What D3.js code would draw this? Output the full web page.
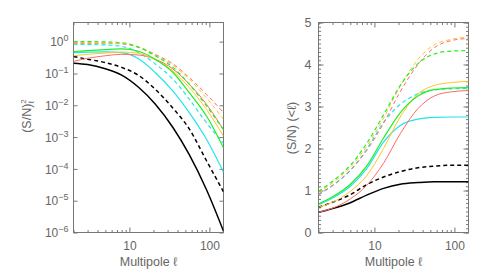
<!DOCTYPE html>
<html>
<head>
<meta charset="utf-8">
<script src="https://cdn.jsdelivr.net/npm/d3@7"></script>
<style>
  body { margin: 0; background: #fff; }
  text { font-family: "Liberation Sans", Arial, sans-serif; fill: #666; }
</style>
</head>
<body>
<svg id="chart" width="491" height="280"></svg>
<script>
var ell = [2, 3, 5, 8, 13, 21, 35, 56, 92, 150];

// left panel: (S/N)^2 per multipole
var snBlack      = [0.21, 0.19, 0.14, 0.089, 0.037, 0.011, 2.0e-3, 2.8e-4, 2.2e-5, 1.1e-6];
var snBlackDash  = [0.34, 0.28, 0.22, 0.155, 0.087, 0.032, 8.1e-3, 1.8e-3, 1.8e-4, 1.9e-5];
var snGreen      = [0.49, 0.52, 0.56, 0.59, 0.50, 0.28, 0.107, 0.025, 4.6e-3, 4.6e-4];
var snCyan       = [0.45, 0.47, 0.48, 0.45, 0.29, 0.107, 0.028, 5.9e-3, 8.5e-4, 7.9e-5];
var snOrange     = [0.36, 0.40, 0.44, 0.47, 0.43, 0.27, 0.12, 0.036, 7.4e-3, 1.07e-3];
var snRed        = [0.24, 0.30, 0.36, 0.40, 0.38, 0.28, 0.138, 0.046, 0.0107, 1.7e-3];
var snGreenDash  = [1.0, 1.0, 0.98, 0.93, 0.66, 0.36, 0.155, 0.046, 9.5e-3, 1.7e-3];
var snOrangeDash = [0.93, 0.93, 0.91, 0.87, 0.68, 0.38, 0.18, 0.066, 0.017, 3.6e-3];
var snRedDash    = [0.89, 0.89, 0.89, 0.85, 0.68, 0.40, 0.20, 0.074, 0.022, 5.9e-3];
var snCyanDash   = [0.83, 0.81, 0.79, 0.71, 0.46, 0.20, 0.066, 0.0155, 2.8e-3, 6.3e-4];

// right panel: cumulative S/N below l
var cumBlack      = [0.48, 0.57, 0.71, 0.89, 1.05, 1.15, 1.19, 1.21, 1.21, 1.21];
var cumBlackDash  = [0.60, 0.72, 0.90, 1.14, 1.32, 1.45, 1.54, 1.58, 1.60, 1.60];
var cumGreen      = [0.68, 0.85, 1.15, 1.58, 2.25, 2.85, 3.25, 3.40, 3.44, 3.45];
var cumCyan       = [0.66, 0.82, 1.10, 1.52, 2.15, 2.55, 2.70, 2.74, 2.75, 2.75];
var cumOrange     = [0.60, 0.72, 0.98, 1.35, 2.00, 2.75, 3.30, 3.50, 3.57, 3.60];
var cumRed        = [0.48, 0.58, 0.80, 1.12, 1.65, 2.35, 2.95, 3.25, 3.35, 3.38];
var cumGreenDash  = [0.98, 1.22, 1.60, 2.12, 2.80, 3.50, 4.02, 4.25, 4.32, 4.33];
var cumOrangeDash = [0.95, 1.18, 1.55, 2.05, 2.72, 3.48, 4.12, 4.47, 4.60, 4.66];
var cumRedDash    = [0.92, 1.12, 1.48, 1.95, 2.60, 3.35, 4.00, 4.40, 4.57, 4.62];
var cumCyanDash   = [0.90, 1.12, 1.48, 1.98, 2.62, 3.05, 3.30, 3.40, 3.42, 3.43];

var xMajor = [10, 100];
var xMinor = [2, 3, 4, 5, 6, 7, 8, 9, 20, 30, 40, 50, 60, 70, 80, 90];
var yLogTicks = [1e-6, 1e-5, 1e-4, 1e-3, 1e-2, 1e-1, 1];
var yLinMajor = [0, 1, 2, 3, 4, 5];

var styles = [
  { left: snBlack,      right: cumBlack,      color: '#000',    dash: null,  w: 1.5 },
  { left: snBlackDash,  right: cumBlackDash,  color: '#000',    dash: '4,3', w: 1.5 },
  { left: snCyan,       right: cumCyan,       color: '#22e4ee', dash: null,  w: 1.2 },
  { left: snCyanDash,   right: cumCyanDash,   color: '#22e4ee', dash: '4,3', w: 1.2 },
  { left: snRed,        right: cumRed,        color: '#ff6a6a', dash: null,  w: 1 },
  { left: snRedDash,    right: cumRedDash,    color: '#ff6a6a', dash: '4,3', w: 1 },
  { left: snOrange,     right: cumOrange,     color: '#ffc425', dash: null,  w: 1 },
  { left: snOrangeDash, right: cumOrangeDash, color: '#ffc425', dash: '4,3', w: 1 },
  { left: snGreen,      right: cumGreen,      color: '#22ee22', dash: null,  w: 1.2 },
  { left: snGreenDash,  right: cumGreenDash,  color: '#22ee22', dash: '4,3', w: 1.2 }
];

var svg = d3.select('#chart');
var yTop = 22.5, yBot = 232.5;

var xL = d3.scaleLog().domain([2, 150]).range([73.5, 223.5]);
var yL = d3.scaleLog().domain([1e-6, 4]).range([yBot, yTop]);
var xR = d3.scaleLog().domain([2, 150]).range([318.5, 468.5]);
var yR = d3.scaleLinear().domain([0, 5]).range([yBot, yTop]);

function frame(x) {
  svg.append('rect')
    .attr('x', x.range()[0]).attr('y', yTop)
    .attr('width', x.range()[1] - x.range()[0]).attr('height', yBot - yTop)
    .attr('fill', 'none').attr('stroke', '#777').attr('stroke-width', 1);
}

function xAxes(x) {
  var gb = svg.append('g').attr('transform', 'translate(0,' + yBot + ')')
    .call(d3.axisBottom(x).tickValues(xMajor).tickSize(-5).tickPadding(9).tickFormat(d3.format('d')));
  gb.append('g').call(d3.axisBottom(x).tickValues(xMinor).tickSize(-2.5).tickFormat(''));
  var gt = svg.append('g').attr('transform', 'translate(0,' + yTop + ')')
    .call(d3.axisTop(x).tickValues(xMajor).tickSize(-5).tickFormat(''));
  gt.append('g').call(d3.axisTop(x).tickValues(xMinor).tickSize(-2.5).tickFormat(''));
  gb.selectAll('text').attr('font-size', 12).style('fill', '#666');
  svg.append('text')
    .attr('x', (x.range()[0] + x.range()[1]) / 2).attr('y', 266)
    .attr('text-anchor', 'middle').attr('font-size', 12.5)
    .text('Multipole ℓ');
}

// left panel
frame(xL);
xAxes(xL);
var gyl = svg.append('g').attr('transform', 'translate(' + xL.range()[0] + ',0)')
  .call(d3.axisLeft(yL).tickValues(yLogTicks).tickSize(-4).tickFormat(''));
gyl.selectAll('.tick').append('text')
  .attr('x', -5).attr('dy', '0.35em').attr('text-anchor', 'end').attr('font-size', 12)
  .style('fill', '#666')
  .each(function(d) {
    var e = Math.round(Math.log10(d));
    var t = d3.select(this);
    t.append('tspan').text('10');
    t.append('tspan').attr('font-size', 9).attr('dy', -5)
      .text(e < 0 ? '\u2212' + (-e) : String(e));
  });
svg.append('g').attr('transform', 'translate(' + xL.range()[1] + ',0)')
  .call(d3.axisRight(yL).tickValues(yLogTicks).tickSize(-4).tickFormat(''));

var ylab = svg.append('text')
  .attr('transform', 'translate(31,116) rotate(-90)')
  .attr('text-anchor', 'middle').attr('font-size', 12.5);
ylab.append('tspan').text('(S/N)');
ylab.append('tspan').attr('font-size', 8).attr('dy', -5).text('2');
ylab.append('tspan').attr('font-size', 8).attr('dy', 8).attr('dx', -4).text('ℓ');

// right panel
frame(xR);
xAxes(xR);
var minorLin = d3.range(0, 5.0001, 0.1);
svg.append('g').attr('transform', 'translate(' + xR.range()[0] + ',0)')
  .call(d3.axisLeft(yR).tickValues(minorLin).tickSize(-2.5).tickFormat(''));
svg.append('g').attr('transform', 'translate(' + xR.range()[1] + ',0)')
  .call(d3.axisRight(yR).tickValues(minorLin).tickSize(-2.5).tickFormat(''));
var gyr = svg.append('g').attr('transform', 'translate(' + xR.range()[0] + ',0)')
  .call(d3.axisLeft(yR).tickValues(yLinMajor).tickSize(-5).tickPadding(7).tickFormat(d3.format('d')));
gyr.selectAll('text').attr('font-size', 12.5).style('fill', '#666');
svg.append('g').attr('transform', 'translate(' + xR.range()[1] + ',0)')
  .call(d3.axisRight(yR).tickValues(yLinMajor).tickSize(-5).tickFormat(''));

svg.append('text')
  .attr('transform', 'translate(296,128) rotate(-90)')
  .attr('text-anchor', 'middle').attr('font-size', 12.5)
  .text('(S/N) (<ℓ)');

svg.selectAll('.tick line').attr('stroke', '#777');
svg.selectAll('.domain').remove();

// clip paths
var defs = svg.append('defs');
[['clipL', xL], ['clipR', xR]].forEach(function(c) {
  defs.append('clipPath').attr('id', c[0]).append('rect')
    .attr('x', c[1].range()[0]).attr('y', yTop)
    .attr('width', c[1].range()[1] - c[1].range()[0]).attr('height', yBot - yTop);
});

var lineL = d3.line().x(function(d) { return xL(d[0]); }).y(function(d) { return yL(d[1]); })
  .curve(d3.curveMonotoneX);
var lineR = d3.line().x(function(d) { return xR(d[0]); }).y(function(d) { return yR(d[1]); })
  .curve(d3.curveMonotoneX);

var gL = svg.append('g').attr('clip-path', 'url(#clipL)');
var gR = svg.append('g').attr('clip-path', 'url(#clipR)');

styles.forEach(function(s) {
  gL.append('path')
    .datum(d3.zip(ell, s.left))
    .attr('d', lineL)
    .attr('fill', 'none').attr('stroke', s.color).attr('stroke-width', s.w)
    .attr('stroke-dasharray', s.dash);
  gR.append('path')
    .datum(d3.zip(ell, s.right))
    .attr('d', lineR)
    .attr('fill', 'none').attr('stroke', s.color).attr('stroke-width', s.w)
    .attr('stroke-dasharray', s.dash);
});
</script>
</body>
</html>
